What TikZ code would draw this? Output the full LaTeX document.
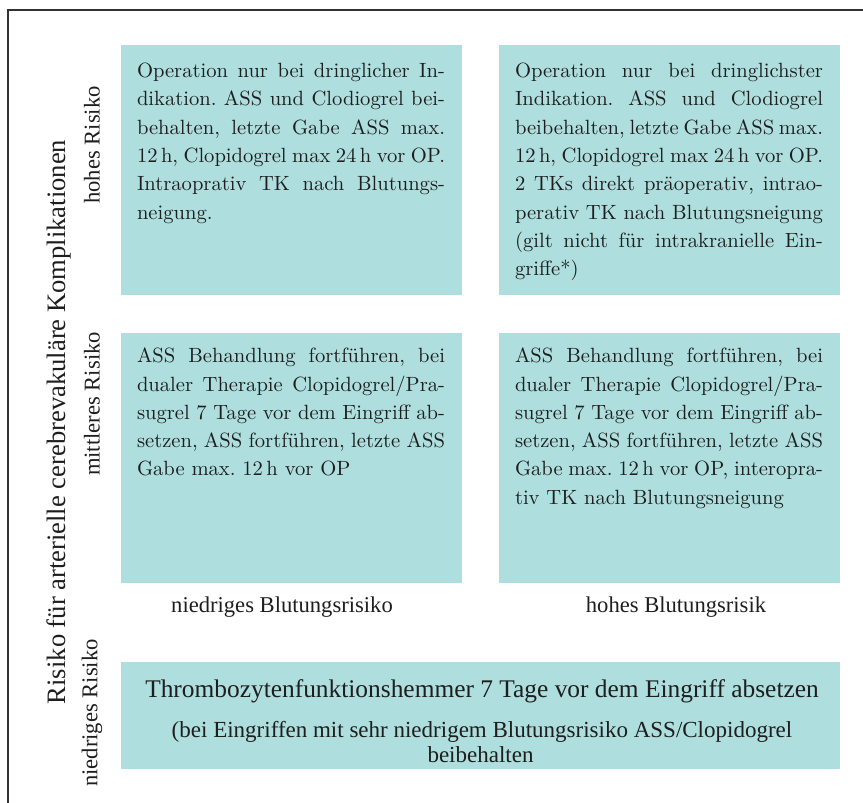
\documentclass[tikz,border=0pt]{standalone}
\usepackage{fontspec}
\usepackage{xcolor}
\usepackage{tikz}
\usetikzlibrary{positioning}
\newfontfamily\lblfont{Liberation Serif}
\definecolor{cellcyan}{RGB}{174,222,222}
\definecolor{inkgray}{RGB}{30,30,30}
\definecolor{framegray}{RGB}{50,50,50}
\frenchspacing
% one justified line of a cell text
\newcommand{\cellw}{154pt}
\newcommand{\jline}[1]{\makebox[\cellw][s]{#1}\\}

\begin{document}
\begin{tikzpicture}[x=0.5pt, y=-0.5pt,
  cell/.style={fill=cellcyan, draw=none, minimum width=170.5pt, minimum height=125pt, inner sep=0pt},
  celltxt/.style={anchor=north west, inner sep=0pt, text width=\cellw, align=justify,
                  text=inkgray, font=\fontsize{10.3}{14.15}\selectfont\frenchspacing},
  axislbl/.style={inner sep=0pt, text=inkgray, font=\lblfont\fontsize{11.3}{13}\selectfont},
  risklbl/.style={axislbl, rotate=90}
]
  \fill[white] (0,0) rectangle (863,803);
  \useasboundingbox (0,0) rectangle (863,803);
  \draw[framegray, line width=1pt] (8,803) -- (8,10) -- (863,10);

  % cells
  \node[cell] (hl) at (291.5,170) {};
  \node[cell] (hr) at (669.5,170) {};
  \node[cell] (ml) at (291.5,458) {};
  \node[cell] (mr) at (669.5,458) {};
  \node[cell, minimum width=359.5pt, minimum height=53.5pt] (low) at (480.5,715.5) {};

  \node[celltxt] (hltxt) at ([shift={(16,18)}]hl.north west)
    {\jline{Operation nur bei dringlicher In-}
     \jline{dikation. ASS und Clodiogrel bei-}
     \jline{behalten, letzte Gabe ASS max.}
     \jline{12\,h, Clopidogrel max 24\,h vor OP.}
     \jline{Intraoprativ TK nach Blutungs-}
     neigung.};
  \node[celltxt] (hrtxt) at ([shift={(16,18)}]hr.north west)
    {\jline{Operation nur bei dringlichster}
     \jline{Indikation. ASS und Clodiogrel}
     \jline{beibehalten, letzte Gabe ASS max.}
     \jline{12\,h, Clopidogrel max 24\,h vor OP.}
     \jline{2 TKs direkt präoperativ, intrao-}
     \jline{perativ TK nach Blutungsneigung}
     \jline{(gilt nicht für intrakranielle Ein-}
     griffe*)};
  \node[celltxt] (mltxt) at ([shift={(16,15)}]ml.north west)
    {\jline{ASS Behandlung fortführen, bei}
     \jline{dualer Therapie Clopidogrel/Pra-}
     \jline{sugrel 7 Tage vor dem Eingriff ab-}
     \jline{setzen, ASS fortführen, letzte ASS}
     Gabe max. 12\,h vor OP};
  \node[celltxt] (mrtxt) at ([shift={(16,15)}]mr.north west)
    {\jline{ASS Behandlung fortführen, bei}
     \jline{dualer Therapie Clopidogrel/Pra-}
     \jline{sugrel 7 Tage vor dem Eingriff ab-}
     \jline{setzen, ASS fortführen, letzte ASS}
     \jline{Gabe max. 12\,h vor OP, interopra-}
     tiv TK nach Blutungsneigung};

  % low risk row
  \node[axislbl, anchor=base, font=\lblfont\fontsize{12.7}{14}\selectfont] (lowa) at (482,697)
    {Thrombozytenfunktionshemmer 7 Tage vor dem Eingriff absetzen};
  \node[axislbl, anchor=base, font=\lblfont\fontsize{11.5}{13}\selectfont] (lowb) at (482,737)
    {(bei Eingriffen mit sehr niedrigem Blutungsrisiko ASS/Clopidogrel};
  \node[axislbl, anchor=base, font=\lblfont\fontsize{11.5}{13}\selectfont] (lowc) at (480.5,762)
    {beibehalten};

  % bleeding risk labels
  \node[axislbl, anchor=base] (bleedlow)  at (282,612) {niedriges Blutungsrisiko};
  \node[axislbl, anchor=base] (bleedhigh) at (676,612) {hohes Blutungsrisik};

  % complication risk labels
  \node[risklbl, font=\lblfont\fontsize{13.3}{15}\selectfont] (riskaxis) at (59,422)
    {Risiko für arterielle cerebrevakuläre Komplikationen};
  \node[risklbl] (riskhigh) at (92,145) {hohes Risiko};
  \node[risklbl] (riskmid)  at (92,404) {mittleres Risiko};
  \node[risklbl] (risklow)  at (92,713) {niedriges Risiko};
\end{tikzpicture}
\end{document}
